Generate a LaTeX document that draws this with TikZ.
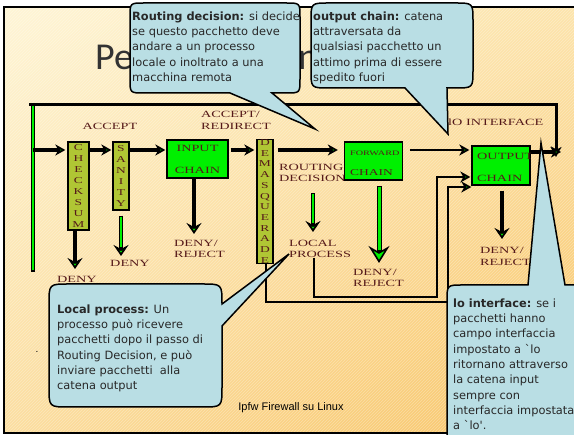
\documentclass[tikz,border=0pt]{standalone}
\usepackage{fontspec}
\setmainfont{Liberation Serif}
\newfontfamily\boxfont[FakeStretch=1.5]{Liberation Serif}
\newfontfamily\callfont{DejaVu Sans}
\newfontfamily\titlefont{Carlito}
\newfontfamily\footfont{Liberation Sans}
\usetikzlibrary{arrows.meta,patterns,shadings}
\definecolor{boxolive}{RGB}{176,198,52}
\definecolor{boxgreen}{RGB}{0,240,0}
\definecolor{callblue}{RGB}{185,222,228}
\definecolor{labelred}{RGB}{85,25,25}
\definecolor{calltext}{RGB}{40,40,40}
\definecolor{bgUL}{RGB}{254,245,214}
\definecolor{bgUR}{RGB}{252,228,172}
\definecolor{bgLL}{RGB}{251,222,160}
\definecolor{bgLR}{RGB}{248,196,102}
\begin{document}
\begin{tikzpicture}[x=1pt,y=-1pt,
  lbl/.style={font=\boxfont\fontsize{9.5}{11}\selectfont, text=labelred, inner sep=0pt, align=left},
  vbox/.style={draw=black, line width=1.3pt, fill=boxolive, inner sep=0pt, align=center, text=labelred, font=\boxfont\fontsize{9}{10.9}\selectfont},
  chainbox/.style={draw=black, line width=1.3pt, fill=boxgreen, inner sep=0pt},
  tipg/.style={-{Stealth[length=10pt,width=11pt,inset=3pt,fill=boxgreen,line width=1.8pt]}},
  harrow/.style={line width=3.5pt, tipg},
  thinarrow/.style={line width=2.4pt, tipg},
  darrow/.style={line width=4pt, -{Stealth[length=11pt,width=15pt,inset=4pt,fill=boxgreen,line width=1.8pt]}},
  bigarrow/.style={line width=5pt, -{Stealth[length=17pt,width=21pt,inset=6pt,fill=boxgreen,line width=1.6pt]}},
  gshaft/.style={draw=boxgreen, line width=2pt, shorten >=9pt},
  biggshaft/.style={draw=boxgreen, line width=3pt, shorten >=13pt},
  callout/.style={draw=black, line width=1.5pt, fill=callblue},
  calltxt/.style={font=\callfont\fontsize{11.4}{15.3}\selectfont, text=calltext, inner sep=0pt, align=left, anchor=north west},
]
\useasboundingbox (0,0) rectangle (574,435);
\clip (0,0) rectangle (574,435);
\fill[white] (0,0) rectangle (574,435);
\shade[upper left=bgUL, upper right=bgUR, lower left=bgLL, lower right=bgLR] (4,7) rectangle (580,433);
\fill[pattern=north east lines, pattern color=white, opacity=0.3] (4,7) rectangle (580,433);
\draw[line width=1.2pt] (4,7) rectangle (580,433);

% title
\node[font=\titlefont\fontsize{38}{40}\selectfont, anchor=base west, inner sep=0pt, text=black!80] (title) at (95,70) {Pe};
\node[font=\titlefont\fontsize{38}{40}\selectfont, anchor=base west, inner sep=0pt, text=black!80] (titlen) at (298,70) {n};

% loop line
\coordinate (loopNW) at (29,105);
\coordinate (loopNE) at (556,105);
\coordinate (loopEnd) at (556,157);
\draw[line width=3pt, tipg] (loopNW) -- (loopNE) -- (loopEnd);
\node[chainbox, minimum width=3.5pt, minimum height=166pt] (bar) at (33,188) {};

% boxes
\node[vbox, minimum width=21pt, minimum height=88pt] (checksum) at (78.5,186) {C\\H\\E\\C\\K\\S\\U\\M};
\node[vbox, minimum width=16pt, minimum height=68pt] (sanity) at (121,176) {S\\A\\N\\I\\T\\Y};
\node[chainbox, minimum width=61pt, minimum height=38pt, align=center, font=\boxfont\fontsize{9.5}{11}\selectfont, text=labelred] (input) at (197.5,159) {INPUT\\[11pt]CHAIN};
\node[vbox, minimum width=16pt, minimum height=123pt, font=\boxfont\fontsize{9}{10.7}\selectfont] (demasq) at (265,201.5) {D\\E\\M\\A\\S\\Q\\U\\E\\R\\A\\D\\E};
\node[chainbox, minimum width=58pt, minimum height=38pt] (forward) at (373.5,161) {};
\node[lbl, anchor=base west, font=\boxfont\fontsize{6.8}{8}\selectfont] (fwdA) at (350,155.5) {FORWARD};
\node[lbl, anchor=base west, font=\boxfont\fontsize{9}{10}\selectfont] (fwdB) at (350,175.5) {CHAIN};
\node[chainbox, minimum width=58pt, minimum height=39pt] (output) at (501,165.5) {};
\node[lbl, anchor=base west] (outA) at (477,159.5) {OUTPUT};
\node[lbl, anchor=base west] (outB) at (477,181.5) {CHAIN};

% main flow
\coordinate (flow) at (33,150);
\draw[harrow, shorten >=2pt] (flow) -- (checksum.west |- flow);
\draw[harrow, shorten >=1pt] (checksum.east |- flow) -- (sanity.west |- flow);
\draw[harrow, shorten >=1pt] (sanity.east |- flow) -- (input.west |- flow);
\draw[harrow, shorten <=2pt, shorten >=2pt] (input.east |- flow) -- (demasq.west |- flow);
\draw[harrow, shorten <=4pt, shorten >=6pt] (demasq.east |- flow) -- (forward.west |- flow);
\draw[thinarrow, shorten <=7pt, shorten >=2pt] (forward.east |- flow) -- (output.west |- flow);
\coordinate (exit) at (561,152);
\draw[harrow] (output.east |- exit) -- (exit);

% deny arrows
\coordinate (d1) at (75,269);
\draw[darrow] (checksum.south -| d1) -- (d1);
\coordinate (d2) at (121,256);
\draw[darrow, shorten <=5pt] (sanity.south) -- (d2);
\draw[gshaft, shorten <=6pt] (sanity.south) -- (d2);
\coordinate (d3) at (194,234);
\draw[darrow] (input.south -| d3) -- (d3);
\coordinate (r1) at (313,193);
\coordinate (r2) at (313,232);
\draw[darrow] (r1) -- (r2);
\draw[gshaft, shorten <=1pt] (r1) -- (r2);
\coordinate (d4) at (379,263);
\draw[bigarrow, shorten <=5pt] (forward.south -| d4) -- (d4);
\draw[biggshaft, shorten <=6pt] (forward.south -| d4) -- (d4);
\coordinate (d5) at (502,239);
\draw[darrow, shorten <=5pt] (output.south -| d5) -- (d5);

% labels
\node[lbl] (accept) at (110,126) {ACCEPT};
\node[lbl, anchor=west, font=\boxfont\fontsize{9.5}{12}\selectfont] (acceptr) at (201,120) {ACCEPT/\\REDIRECT};
\node[lbl, anchor=west] (routing) at (279,173) {ROUTING\\DECISION};
\node[lbl, anchor=west] (local) at (289,249) {LOCAL\\PROCESS};
\node[lbl] (deny1) at (77,279) {DENY};
\node[lbl] (deny2) at (130,263) {DENY};
\node[lbl, anchor=west] (deny3) at (174,249) {DENY/\\REJECT};
\node[lbl, anchor=west] (deny4) at (353,278) {DENY/\\REJECT};
\node[lbl, anchor=west, font=\boxfont\fontsize{9.5}{12}\selectfont] (deny5) at (480,256) {DENY/\\REJECT};
\node[lbl, anchor=west] (lo) at (448,122) {lO INTERFACE};

% return paths to output
\coordinate (lpA) at (314,297);
\coordinate (lpB) at (437,297);
\coordinate (lpC) at (437,177);
\draw[line width=2.2pt, tipg, shorten >=1pt] (local.south -| lpA) -- (lpA) -- (lpB) -- (lpC) -- (output.west |- lpC);
\coordinate (dmA) at (266,302);
\coordinate (dmB) at (448,302);
\coordinate (dmC) at (448,187);
\draw[line width=1.4pt, tipg] (demasq.south -| dmA) -- (dmA) -- (dmB) -- (dmC) -- (output.west |- dmC);

% callouts
\draw[callout] (144,3) -- (286,3) .. controls (300,3) .. (300,17) -- (300,79) .. controls (300,93) .. (286,93) -- (272,93) -- (315,129) -- (230,93) -- (144,93) .. controls (130,93) .. (130,79) -- (130,17) .. controls (130,3) .. (144,3) -- cycle;
\draw[callout] (329,3) -- (455,3) .. controls (473,3) .. (473,21) -- (473,70) .. controls (473,88) .. (455,88) -- (447,88) -- (448,134) -- (405,88) -- (329,88) .. controls (311,88) .. (311,70) -- (311,21) .. controls (311,3) .. (329,3) -- cycle;
\draw[callout] (69,284) -- (202,284) .. controls (222,284) .. (222,304) -- (289,254) -- (222,326) -- (222,387) .. controls (222,407) .. (202,407) -- (69,407) .. controls (49,407) .. (49,387) -- (49,304) .. controls (49,284) .. (69,284) -- cycle;
\draw[callout] (463,285) -- (528,285) -- (541,143) -- (565,285) -- (600,285) -- (600,450) -- (447,450) -- (447,301) .. controls (447,285) .. (463,285) -- cycle;

\node[calltxt] (t1) at (132,11.5) {\textbf{Routing decision:} si decide\\se questo pacchetto deve\\andare a un processo\\locale o inoltrato a una\\macchina remota};
\node[calltxt] (t2) at (313,11.5) {\textbf{output chain:} catena\\attraversata da\\qualsiasi pacchetto un\\attimo prima di essere\\spedito fuori};
\node[calltxt] (t3) at (57,304.5) {\textbf{Local process:} Un\\processo può ricevere\\pacchetti dopo il passo di\\Routing Decision, e può\\inviare pacchetti\ \ alla\\catena output};
\node[calltxt] (t4) at (453,298.5) {\textbf{lo interface:} se i\\pacchetti hanno\\campo interfaccia\\impostato a \textasciigrave lo\\ritornano attraverso\\la catena input\\sempre con\\interfaccia impostata\\a \textasciigrave lo\textquotesingle.};

% footer
\node[font=\footfont\fontsize{11}{13}\selectfont, anchor=base, inner sep=0pt] (footer) at (291,411) {Ipfw Firewall su Linux};
\node[font=\footfont\fontsize{10}{12}\selectfont, anchor=base, inner sep=0pt] (dot) at (37,353) {.};
\end{tikzpicture}
\end{document}
